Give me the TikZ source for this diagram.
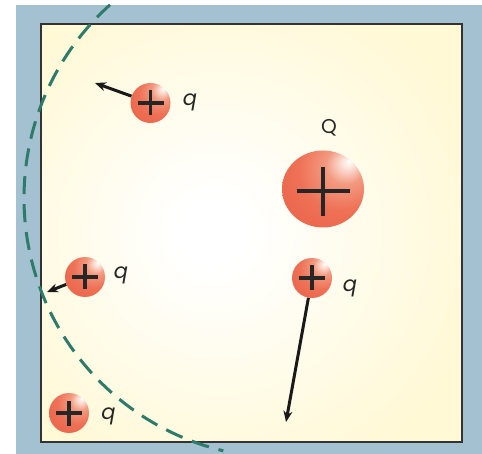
\documentclass[tikz,border=0pt]{standalone}
\usepackage{fontspec}
\newfontfamily\lblfont{Poppins}
\usetikzlibrary{arrows.meta,shapes.geometric}
\definecolor{bgblue}{HTML}{A3C1D0}
\definecolor{paper}{HTML}{FFF8D0}
\definecolor{sphA}{HTML}{FCE0D6}
\definecolor{sphB}{HTML}{F39A80}
\definecolor{sphC}{HTML}{EE7156}
\definecolor{sphD}{HTML}{E2462D}
\definecolor{dashgreen}{HTML}{2E7B6B}
\pgfdeclareradialshading{sphere}{\pgfpoint{16bp}{18bp}}{color(0bp)=(white); color(4bp)=(sphA); color(12bp)=(sphB); color(26bp)=(sphC); color(50bp)=(sphC!55!sphD); color(74bp)=(sphD); color(80bp)=(sphD)}
\pgfdeclareradialshading{paperglow}{\pgfpoint{-5bp}{0bp}}{color(0bp)=(white); color(4bp)=(white); color(30bp)=(paper!85!white); color(45bp)=(paper); color(80bp)=(paper)}
\tikzset{
  charge/.style={circle, inner sep=0pt, minimum size=40pt, shading=sphere,
    path picture={\draw[line width=3.2pt, black!85]
      ([xshift=-13pt]path picture bounding box.center) -- ([xshift=13pt]path picture bounding box.center)
      ([yshift=-12.5pt]path picture bounding box.center) -- ([yshift=12.5pt]path picture bounding box.center);}},
  bigcharge/.style={ellipse, inner sep=0pt, minimum width=82pt, minimum height=77pt, shading=sphere,
    path picture={\draw[line width=3.2pt, black!85]
      ([xshift=-26.5pt,yshift=-2pt]path picture bounding box.center) -- ([xshift=26.5pt,yshift=-2pt]path picture bounding box.center)
      ([yshift=-27pt]path picture bounding box.center) -- ([yshift=22pt]path picture bounding box.center);}},
  qlabel/.style={inner sep=0pt, font=\lblfont\itshape\fontsize{21}{24}\selectfont, text=black!85},
  Qlabel/.style={inner sep=0pt, font=\lblfont\fontsize{20}{24}\selectfont, text=black!85},
  force/.style={line width=3pt, black!90, -{Stealth[length=11pt,width=9pt]}},
  fieldline/.style={dashgreen, line width=3pt, dash pattern=on 18pt off 10pt}
}
\begin{document}
\begin{tikzpicture}[x=1pt,y=-1pt]
\useasboundingbox (0,0) rectangle (482,454);
\fill[bgblue] (16,5) rectangle (482,454);
\shade[shading=paperglow] (41,24) rectangle (462,442);
\draw[line width=2pt, black!80] (41,24) rectangle (462,442);
% charges
\node[charge] (q1) at (150.5,103) {};
\node[charge] (q2) at (85,277) {};
\node[charge] (q3) at (312,278) {};
\node[charge] (q4) at (69,413) {};
\node[bigcharge] (Q) at (323,189) {};
% labels
\node[qlabel] (l1) at (190,102) {q};
\node[qlabel] (l2) at (121,275.5) {q};
\node[qlabel] (l3) at (350,288.5) {q};
\node[qlabel] (l4) at (108.5,416) {q};
\node[Qlabel] (lQ) at (329,128) {Q};
% forces
\coordinate (t1) at (95,83);
\coordinate (t2) at (47,292);
\coordinate (t3) at (286,422);
\draw[force] (q1) -- (t1);
\draw[force] (q2) -- (t2);
\draw[force] (q3) -- (t3);
% dashed line
\begin{scope}
\clip (16,5) rectangle (482,454);
\draw[fieldline] (284,198) ++(132:260pt) arc[start angle=132, end angle=256.5, radius=260pt];
\end{scope}
\end{tikzpicture}
\end{document}
